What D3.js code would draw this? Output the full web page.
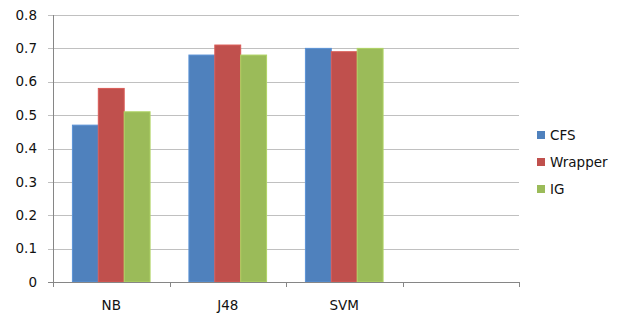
<!DOCTYPE html>
<html>
<head>
<meta charset="utf-8">
<script src="https://cdn.jsdelivr.net/npm/d3@7"></script>
<style>
  body { margin: 0; background: #fff; }
  text { font-family: "DejaVu Sans", sans-serif; font-size: 13.5px; fill: #111; }
</style>
</head>
<body>
<svg id="chart" width="626" height="320"></svg>
<script>
  var categories = ['NB', 'J48', 'SVM', ''];
  var seriesNames = ['CFS', 'Wrapper', 'IG'];
  var cfs = [0.47, 0.68, 0.70, null];
  var wrapper = [0.58, 0.71, 0.69, null];
  var ig = [0.51, 0.68, 0.70, null];
  var yTicks = [0, 0.1, 0.2, 0.3, 0.4, 0.5, 0.6, 0.7, 0.8];
  var colors = ['#4F81BD', '#C0504D', '#9BBB59'];

  var svg = d3.select('#chart'),
      margin = {top: 15, right: 107, bottom: 38, left: 53},
      width = +svg.attr('width') - margin.left - margin.right,
      height = +svg.attr('height') - margin.top - margin.bottom,
      g = svg.append('g').attr('transform', 'translate(' + margin.left + ',' + margin.top + ')');

  var values = [cfs, wrapper, ig];

  var x = d3.scaleBand().domain(d3.range(categories.length)).range([0, width]);
  // 150% gap width, like the original
  var xInner = d3.scaleBand().domain(d3.range(seriesNames.length))
      .range([0, x.bandwidth()]).paddingOuter(0.75);
  var y = d3.scaleLinear().domain([0, 0.8]).range([height, 0]);

  // gridlines
  g.append('g')
    .selectAll('line')
    .data(yTicks)
    .enter().append('line')
      .attr('x1', -5).attr('x2', width)
      .attr('y1', function (d) { return Math.round(y(d)) + 0.5; })
      .attr('y2', function (d) { return Math.round(y(d)) + 0.5; })
      .attr('stroke', function (d) { return d === 0 ? '#868686' : '#c0c0c0'; });

  // y labels
  g.append('g')
    .selectAll('text')
    .data(yTicks)
    .enter().append('text')
      .attr('x', -16)
      .attr('y', function (d) { return y(d); })
      .attr('dy', '0.35em')
      .attr('text-anchor', 'end')
      .text(function (d) { return d === 0 ? '0' : d3.format('.1f')(d); });

  // bars
  var groups = g.append('g').selectAll('g')
    .data(categories)
    .enter().append('g')
      .attr('transform', function (d, i) { return 'translate(' + x(i) + ',0)'; });

  groups.selectAll('rect')
    .data(function (d, i) {
      return values.map(function (s, j) { return {s: j, v: s[i]}; })
        .filter(function (d) { return d.v != null; });
    })
    .enter().append('rect')
      .attr('x', function (d) { return xInner(d.s); })
      .attr('width', xInner.bandwidth())
      .attr('y', function (d) { return y(d.v); })
      .attr('height', function (d) { return y(0) - y(d.v); })
      .attr('fill', function (d) { return colors[d.s]; })
      .attr('stroke', function (d) { return d3.color(colors[d.s]).brighter(0.35); })
      .attr('stroke-width', 1);

  // y axis line
  g.append('line')
    .attr('x1', 0.5).attr('x2', 0.5)
    .attr('y1', 0).attr('y2', height)
    .attr('stroke', '#868686');

  // x axis ticks
  g.append('g')
    .selectAll('line')
    .data(d3.range(categories.length + 1))
    .enter().append('line')
      .attr('x1', function (d) { return Math.round(d * x.step()) + 0.5; })
      .attr('x2', function (d) { return Math.round(d * x.step()) + 0.5; })
      .attr('y1', height).attr('y2', height + 5)
      .attr('stroke', '#868686');

  g.append('line')
    .attr('x1', 0).attr('x2', width)
    .attr('y1', Math.round(height) + 0.5).attr('y2', Math.round(height) + 0.5)
    .attr('stroke', '#868686');

  // category labels
  g.append('g')
    .selectAll('text')
    .data(categories)
    .enter().append('text')
      .attr('x', function (d, i) { return x(i) + x.bandwidth() / 2; })
      .attr('y', height + 28)
      .attr('text-anchor', 'middle')
      .text(function (d) { return d; });

  // legend
  var legend = svg.append('g')
    .selectAll('g')
    .data(seriesNames)
    .enter().append('g')
      .attr('transform', function (d, i) { return 'translate(537,' + (135 + i * 27) + ')'; });

  legend.append('rect')
    .attr('x', 0).attr('y', -4)
    .attr('width', 8).attr('height', 8)
    .attr('fill', function (d, i) { return colors[i]; });

  legend.append('text')
    .attr('x', 13)
    .attr('dy', '0.35em')
    .text(function (d) { return d; });
</script>
</body>
</html>
